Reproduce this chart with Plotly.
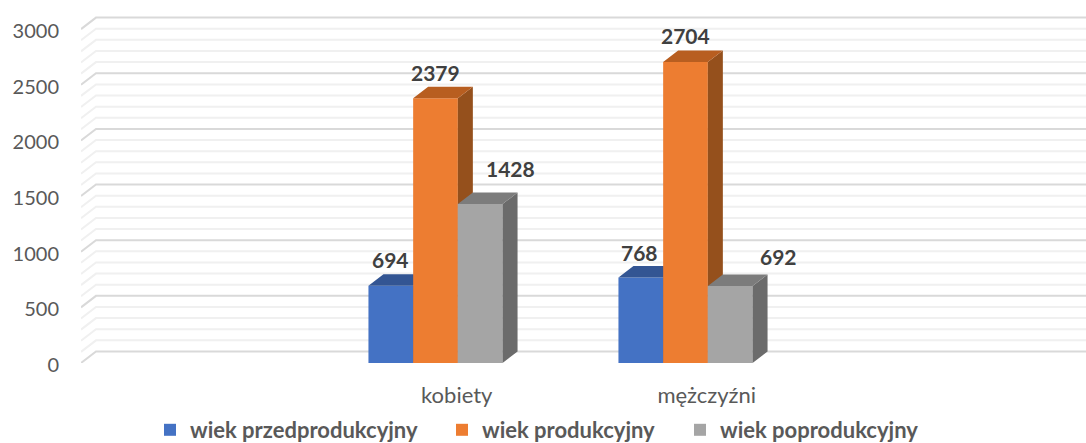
import plotly.graph_objects as go

# ---- data ----
categories = ["kobiety", "mężczyźni"]
series_names = ["wiek przedprodukcyjny", "wiek produkcyjny", "wiek poprodukcyjny"]
przedprodukcyjny = [694, 768]
produkcyjny = [2379, 2704]
poprodukcyjny = [1428, 692]
y_ticks = [0, 500, 1000, 1500, 2000, 2500, 3000]
y_minor_ticks = [v for v in range(0, 3001, 100) if v % 500 != 0]

# ---- style ----
front_colors = ["#4472C4", "#ED7D31", "#A5A5A5"]
top_colors = ["#335593", "#B85E20", "#7C7C7C"]
side_colors = ["#2A4678", "#95501C", "#6B6B6B"]
FONT = "Lato, 'Open Sans', sans-serif"
W, H = 1086, 443
PX_LEFT, PX_FLOOR = 81, 363
PX_PER_UNIT_Y = 0.1113
PX_PER_CAT = 250
PX_FIRST_CAT = 435.5
BAR_W = 44.7 / PX_PER_CAT
DX = 15 / PX_PER_CAT
DY = 11.5 / PX_PER_UNIT_Y
X_RANGE = [(PX_LEFT - PX_FIRST_CAT) / PX_PER_CAT, (W - PX_FIRST_CAT) / PX_PER_CAT]
Y_RANGE = [0, PX_FLOOR / PX_PER_UNIT_Y]
TICK_SHIFT = 0.085
label_dx = [[0, -1], [0, 0], [30, 48]]
label_dy = [[26, 25.5], [26, 27], [36, 29]]
legend_px = [150, 442, 680]
legend_names = ["legend", "legend2", "legend3"]

values = [przedprodukcyjny, produkcyjny, poprodukcyjny]
fig = go.Figure()

# back wall and left wall lines
def wall(levels, color, width):
    xs, ys = [], []
    for v in levels:
        xs += [X_RANGE[0], X_RANGE[0] + DX, X_RANGE[1], None]
        ys += [v, v + DY, v + DY, None]
    fig.add_trace(go.Scatter(x=xs, y=ys, mode="lines", line=dict(color=color, width=width),
                             hoverinfo="skip", showlegend=False, xaxis="x", yaxis="y"))

wall(y_minor_ticks, "#F0F0F0", 2)
wall(y_ticks, "#D9D9D9", 2)

annotations = []
for s, vals in enumerate(values):
    ax_x, ax_y = f"x{s + 2}", f"y{s + 2}"
    xc = [i + (s - 1) * BAR_W for i in range(len(categories))]
    top_x, top_y, side_x, side_y = [], [], [], []
    for c, v in zip(xc, vals):
        x0, x1 = c - BAR_W / 2, c + BAR_W / 2
        top_x += [x0, x0 + DX, x1 + DX, x1, x0, None]
        top_y += [v, v + DY, v + DY, v, v, None]
        side_x += [x1, x1 + DX, x1 + DX, x1, x1, None]
        side_y += [0, DY, v + DY, v, 0, None]
    fig.add_trace(go.Bar(x=xc, y=vals, width=BAR_W, name=series_names[s],
                         marker=dict(color=front_colors[s], line=dict(width=0)),
                         showlegend=True, legend=legend_names[s],
                         xaxis=ax_x, yaxis=ax_y))
    for px, py, col in ((side_x, side_y, side_colors[s]), (top_x, top_y, top_colors[s])):
        fig.add_trace(go.Scatter(x=px, y=py, mode="lines", fill="toself", fillcolor=col,
                                 line=dict(width=0, color=col), hoverinfo="skip",
                                 showlegend=False, xaxis=ax_x, yaxis=ax_y))
    for i, (c, v) in enumerate(zip(xc, vals)):
        annotations.append(dict(x=c, y=v, xref=ax_x, yref=ax_y, text=f"<b>{v}</b>",
                                showarrow=False, xshift=label_dx[s][i], yshift=label_dy[s][i],
                                font=dict(family=FONT, size=21, color="#404040")))

layout_axes = {}
for n in (2, 3, 4):
    layout_axes[f"xaxis{n}"] = dict(overlaying="x", matches="x", visible=False)
    layout_axes[f"yaxis{n}"] = dict(overlaying="y", matches="y", visible=False)

legends = {}
for name, px in zip(legend_names, legend_px):
    legends[name] = dict(orientation="h", x=px / W, xanchor="left", y=(H - 430) / H, yanchor="middle",
                         font=dict(family=FONT, size=22, color="#595959", weight="bold"),
                         bgcolor="rgba(0,0,0,0)", itemclick=False, itemdoubleclick=False)

fig.update_layout(
    width=W, height=H,
    margin=dict(l=0, r=0, t=0, b=0, autoexpand=False),
    paper_bgcolor="white", plot_bgcolor="white",
    barmode="overlay",
    font=dict(family=FONT, color="#595959"),
    xaxis=dict(domain=[PX_LEFT / W, 1], range=X_RANGE, showgrid=False, zeroline=False,
               showline=False, ticks="", automargin=False,
               tickmode="array", tickvals=[i + TICK_SHIFT for i in range(len(categories))],
               ticktext=categories, ticklabelstandoff=17,
               tickfont=dict(family=FONT, size=22, color="#595959")),
    yaxis=dict(domain=[(H - PX_FLOOR) / H, 1], range=Y_RANGE, showgrid=False, zeroline=False,
               showline=False, ticks="", automargin=False,
               tickmode="array", tickvals=y_ticks, ticklabelstandoff=21, ticklabelshift=2,
               tickfont=dict(family=FONT, size=20, color="#595959")),
    annotations=annotations,
    **legends,
    **layout_axes,
)

fig.write_html("out.html", config={"displayModeBar": False},
               post_script="document.body.style.margin='0';")
